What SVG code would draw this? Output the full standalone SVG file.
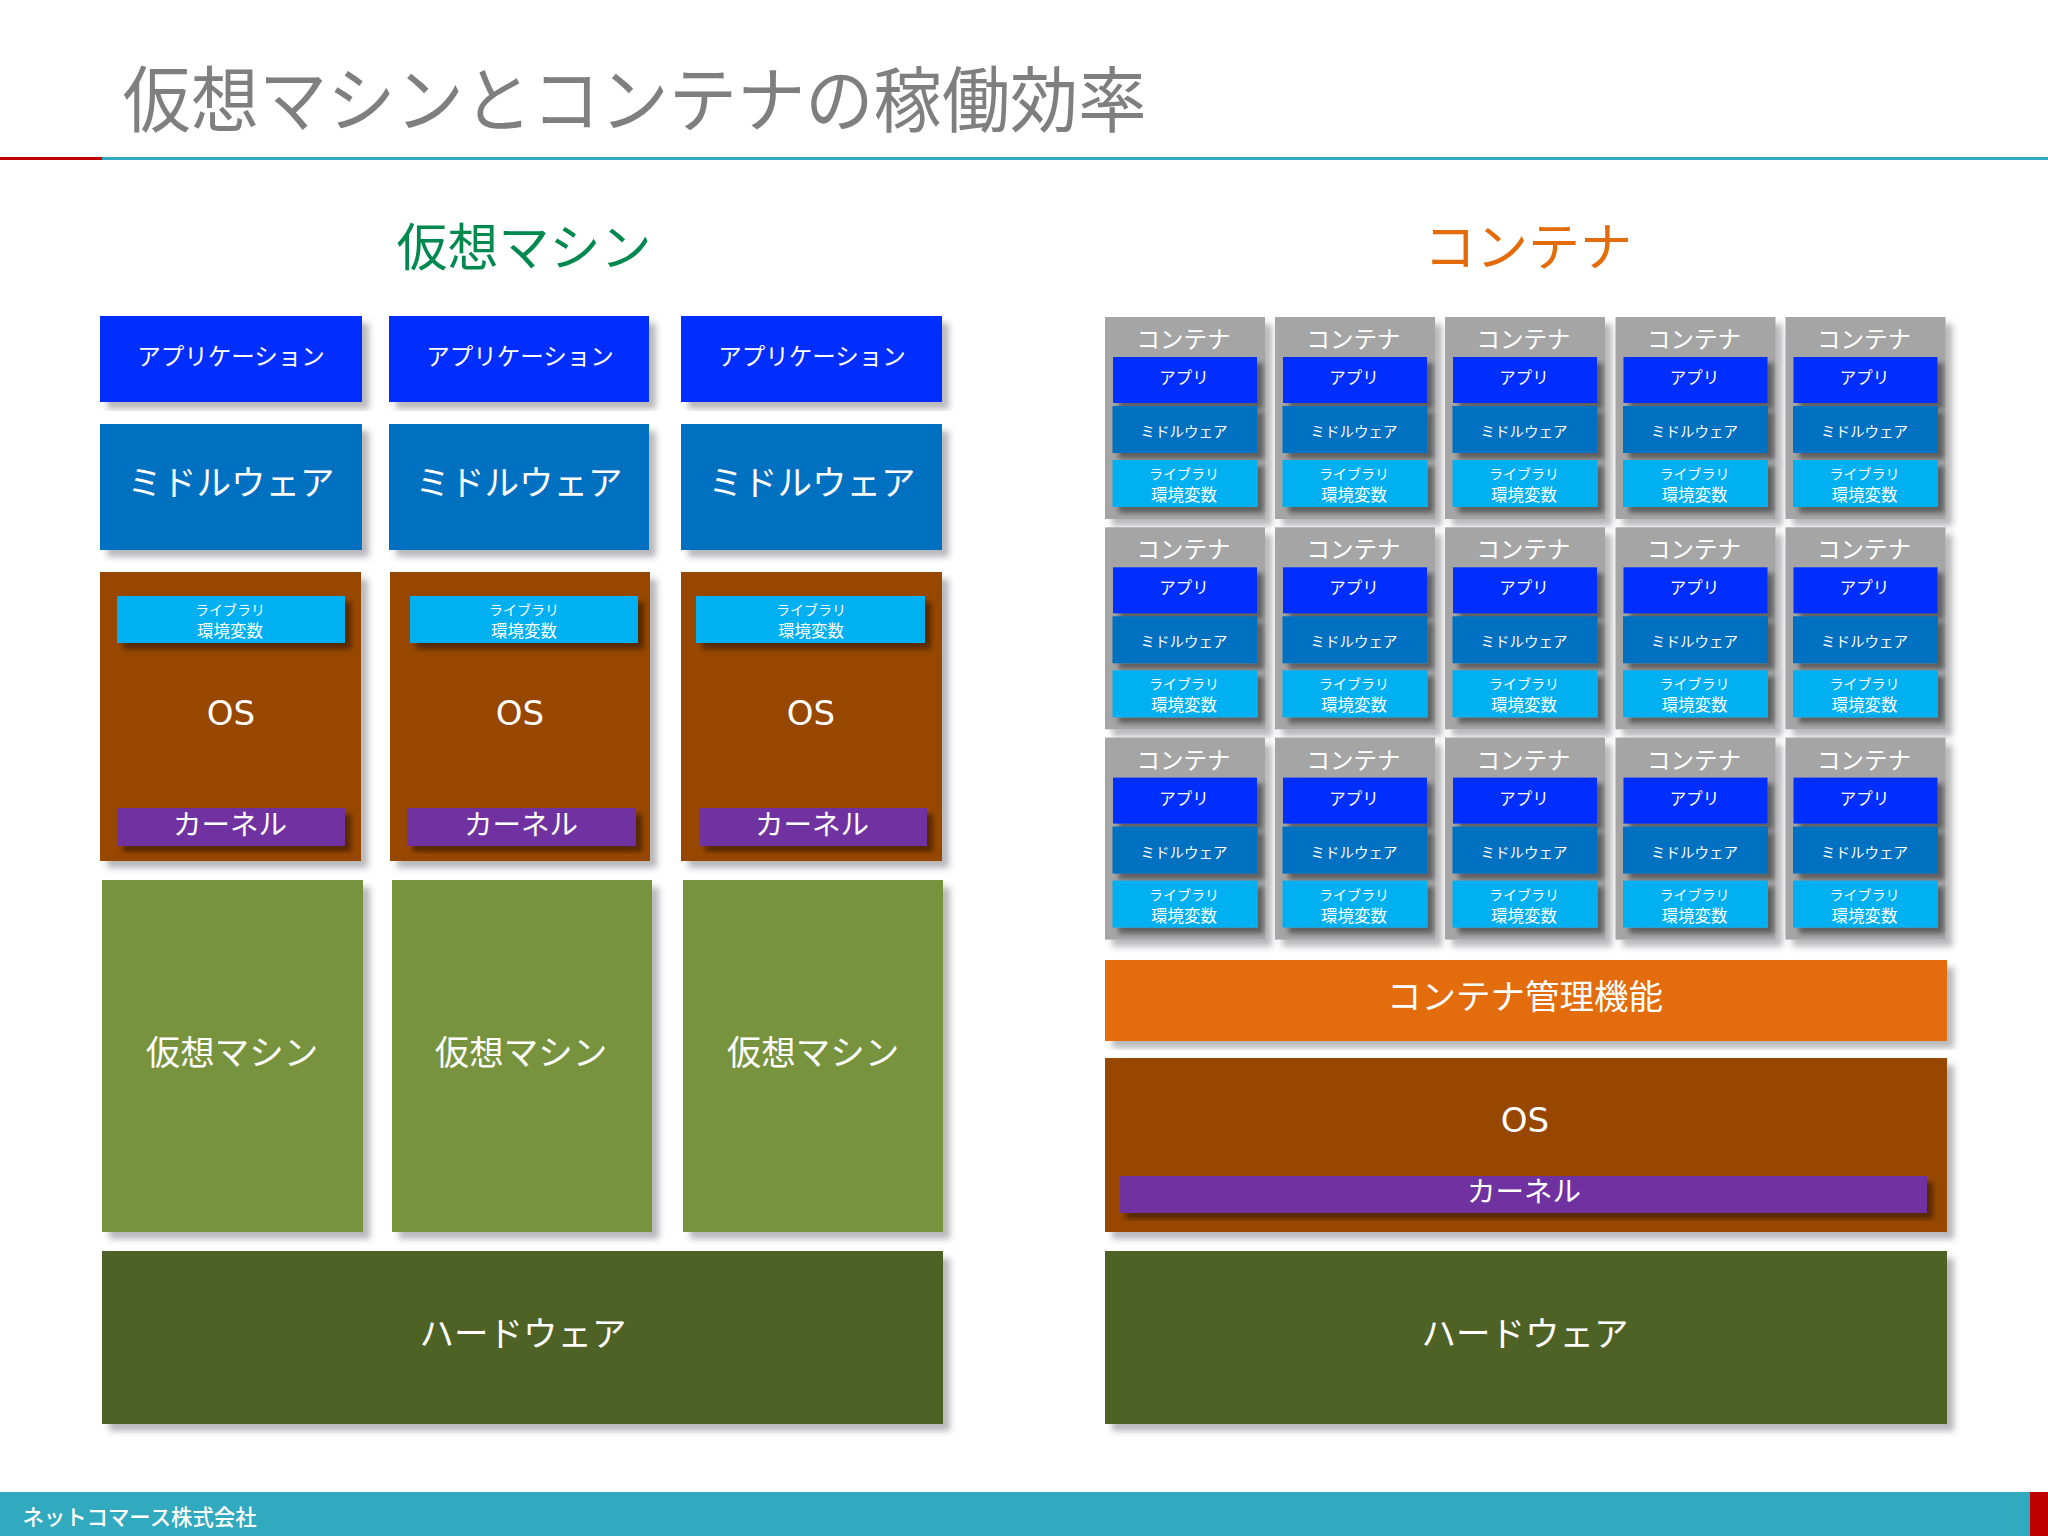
<svg xmlns="http://www.w3.org/2000/svg" width="2048" height="1536" viewBox="0 0 2048 1536">
<style>
text{font-family:"Noto Sans CJK JP","Noto Sans",sans-serif;fill:#fff;text-anchor:middle;font-weight:400}
.s{filter:url(#sh)}
.ss{filter:url(#shs)}
.app{fill:#002EFF}.mid{fill:#0070C0}.lib{fill:#00B0F0}.os{fill:#974706}.ker{fill:#7030A0}.vm{fill:#77933C}.hw{fill:#4F6228}.con{fill:#A5A5A5}
.t23{font-size:23.5px}.t34{font-size:34.5px}.t28{font-size:28.5px}
.lib1{font-size:14px}.lib2{font-size:16.5px}.a1{font-size:16.5px}.m1{font-size:14.5px}
.lat{font-family:"DejaVu Sans",sans-serif;font-size:34px}
</style>
<defs>
<filter id="sh" x="-10%" y="-10%" width="120%" height="120%"><feDropShadow dx="7" dy="7" stdDeviation="3" flood-color="#3a3a40" flood-opacity=".36"/></filter>
<filter id="shs" x="-15%" y="-20%" width="130%" height="140%"><feDropShadow dx="6" dy="6" stdDeviation="2.5" flood-color="#000" flood-opacity=".42"/></filter>
</defs>
<rect width="2048" height="1536" fill="#fff"/>
<g id="header">
<text x="634.5" y="126" font-size="72" textLength="1024" lengthAdjust="spacingAndGlyphs" style="fill:#7F7F7F">仮想マシンとコンテナの稼働効率</text>
<rect x="102" y="157" width="1946" height="3" fill="#31A9BE"/>
<rect x="0" y="157" width="102" height="3" fill="#C00000"/>
<text x="524" y="266" font-size="51" style="fill:#00894F">仮想マシン</text>
<text x="1528" y="266" font-size="52" style="fill:#E36C09">コンテナ</text>
</g>
<g id="vm-stack">
<g id="vm-app-1"><rect class="app s" x="100" y="316" width="262" height="86"/><text class="t23" x="231" y="364.5">アプリケーション</text></g>
<g id="vm-app-2"><rect class="app s" x="389" y="316" width="260" height="86"/><text class="t23" x="520" y="364.5">アプリケーション</text></g>
<g id="vm-app-3"><rect class="app s" x="681" y="316" width="261" height="86"/><text class="t23" x="812" y="364.5">アプリケーション</text></g>
<g id="vm-mid-1"><rect class="mid s" x="100" y="424" width="262" height="126"/><text class="t34" x="231" y="495">ミドルウェア</text></g>
<g id="vm-mid-2"><rect class="mid s" x="389" y="424" width="260" height="126"/><text class="t34" x="519" y="495">ミドルウェア</text></g>
<g id="vm-mid-3"><rect class="mid s" x="681" y="424" width="261" height="126"/><text class="t34" x="812" y="495">ミドルウェア</text></g>
<g id="vm-os-1"><rect class="os s" x="100" y="572" width="261" height="289"/>
<rect class="lib ss" x="117" y="596" width="228" height="47"/><text class="lib1" x="230" y="615">ライブラリ</text><text class="lib2" x="230" y="637">環境変数</text>
<text class="lat" x="231" y="725">OS</text>
<rect class="ker ss" x="117" y="808" width="228" height="38"/><text class="t28" x="230" y="835">カーネル</text></g>
<g id="vm-os-2"><rect class="os s" x="390" y="572" width="260" height="289"/>
<rect class="lib ss" x="410" y="596" width="228" height="47"/><text class="lib1" x="524" y="615">ライブラリ</text><text class="lib2" x="524" y="637">環境変数</text>
<text class="lat" x="520" y="725">OS</text>
<rect class="ker ss" x="407" y="808" width="229" height="38"/><text class="t28" x="521" y="835">カーネル</text></g>
<g id="vm-os-3"><rect class="os s" x="681" y="572" width="261" height="289"/>
<rect class="lib ss" x="696" y="596" width="229" height="47"/><text class="lib1" x="811" y="615">ライブラリ</text><text class="lib2" x="811" y="637">環境変数</text>
<text class="lat" x="811" y="725">OS</text>
<rect class="ker ss" x="699" y="808" width="228" height="38"/><text class="t28" x="812" y="835">カーネル</text></g>
<g id="vm-guest-1"><rect class="vm s" x="102" y="880" width="261" height="352"/><text class="t34" x="232" y="1065">仮想マシン</text></g>
<g id="vm-guest-2"><rect class="vm s" x="392" y="880" width="260" height="352"/><text class="t34" x="521" y="1065">仮想マシン</text></g>
<g id="vm-guest-3"><rect class="vm s" x="683" y="880" width="260" height="352"/><text class="t34" x="813" y="1065">仮想マシン</text></g>
<g id="vm-hw"><rect class="hw s" x="102" y="1251" width="841" height="173"/><text class="t34" x="523" y="1346">ハードウェア</text></g>
</g>
<g id="containers">
<g id="c-1-1" transform="translate(1105 317)"><rect class="con s" width="160" height="202"/><text class="t23" x="78.5" y="31">コンテナ</text><rect class="app ss" x="8" y="40" width="144" height="46"/><text class="a1" x="79" y="67">アプリ</text><rect class="mid ss" x="7.5" y="89" width="145" height="47"/><text class="m1" x="79" y="120">ミドルウェア</text><rect class="lib ss" x="7.5" y="143" width="145" height="47"/><text class="lib1" x="79" y="162">ライブラリ</text><text class="lib2" x="79" y="184">環境変数</text></g>
<g id="c-1-2" transform="translate(1275 317)"><rect class="con s" width="160" height="202"/><text class="t23" x="78.5" y="31">コンテナ</text><rect class="app ss" x="8" y="40" width="144" height="46"/><text class="a1" x="79" y="67">アプリ</text><rect class="mid ss" x="7.5" y="89" width="145" height="47"/><text class="m1" x="79" y="120">ミドルウェア</text><rect class="lib ss" x="7.5" y="143" width="145" height="47"/><text class="lib1" x="79" y="162">ライブラリ</text><text class="lib2" x="79" y="184">環境変数</text></g>
<g id="c-1-3" transform="translate(1445 317)"><rect class="con s" width="160" height="202"/><text class="t23" x="78.5" y="31">コンテナ</text><rect class="app ss" x="8" y="40" width="144" height="46"/><text class="a1" x="79" y="67">アプリ</text><rect class="mid ss" x="7.5" y="89" width="145" height="47"/><text class="m1" x="79" y="120">ミドルウェア</text><rect class="lib ss" x="7.5" y="143" width="145" height="47"/><text class="lib1" x="79" y="162">ライブラリ</text><text class="lib2" x="79" y="184">環境変数</text></g>
<g id="c-1-4" transform="translate(1615.5 317)"><rect class="con s" width="160" height="202"/><text class="t23" x="78.5" y="31">コンテナ</text><rect class="app ss" x="8" y="40" width="144" height="46"/><text class="a1" x="79" y="67">アプリ</text><rect class="mid ss" x="7.5" y="89" width="145" height="47"/><text class="m1" x="79" y="120">ミドルウェア</text><rect class="lib ss" x="7.5" y="143" width="145" height="47"/><text class="lib1" x="79" y="162">ライブラリ</text><text class="lib2" x="79" y="184">環境変数</text></g>
<g id="c-1-5" transform="translate(1785.5 317)"><rect class="con s" width="160" height="202"/><text class="t23" x="78.5" y="31">コンテナ</text><rect class="app ss" x="8" y="40" width="144" height="46"/><text class="a1" x="79" y="67">アプリ</text><rect class="mid ss" x="7.5" y="89" width="145" height="47"/><text class="m1" x="79" y="120">ミドルウェア</text><rect class="lib ss" x="7.5" y="143" width="145" height="47"/><text class="lib1" x="79" y="162">ライブラリ</text><text class="lib2" x="79" y="184">環境変数</text></g>
<g id="c-2-1" transform="translate(1105 527.3)"><rect class="con s" width="160" height="202"/><text class="t23" x="78.5" y="31">コンテナ</text><rect class="app ss" x="8" y="40" width="144" height="46"/><text class="a1" x="79" y="67">アプリ</text><rect class="mid ss" x="7.5" y="89" width="145" height="47"/><text class="m1" x="79" y="120">ミドルウェア</text><rect class="lib ss" x="7.5" y="143" width="145" height="47"/><text class="lib1" x="79" y="162">ライブラリ</text><text class="lib2" x="79" y="184">環境変数</text></g>
<g id="c-2-2" transform="translate(1275 527.3)"><rect class="con s" width="160" height="202"/><text class="t23" x="78.5" y="31">コンテナ</text><rect class="app ss" x="8" y="40" width="144" height="46"/><text class="a1" x="79" y="67">アプリ</text><rect class="mid ss" x="7.5" y="89" width="145" height="47"/><text class="m1" x="79" y="120">ミドルウェア</text><rect class="lib ss" x="7.5" y="143" width="145" height="47"/><text class="lib1" x="79" y="162">ライブラリ</text><text class="lib2" x="79" y="184">環境変数</text></g>
<g id="c-2-3" transform="translate(1445 527.3)"><rect class="con s" width="160" height="202"/><text class="t23" x="78.5" y="31">コンテナ</text><rect class="app ss" x="8" y="40" width="144" height="46"/><text class="a1" x="79" y="67">アプリ</text><rect class="mid ss" x="7.5" y="89" width="145" height="47"/><text class="m1" x="79" y="120">ミドルウェア</text><rect class="lib ss" x="7.5" y="143" width="145" height="47"/><text class="lib1" x="79" y="162">ライブラリ</text><text class="lib2" x="79" y="184">環境変数</text></g>
<g id="c-2-4" transform="translate(1615.5 527.3)"><rect class="con s" width="160" height="202"/><text class="t23" x="78.5" y="31">コンテナ</text><rect class="app ss" x="8" y="40" width="144" height="46"/><text class="a1" x="79" y="67">アプリ</text><rect class="mid ss" x="7.5" y="89" width="145" height="47"/><text class="m1" x="79" y="120">ミドルウェア</text><rect class="lib ss" x="7.5" y="143" width="145" height="47"/><text class="lib1" x="79" y="162">ライブラリ</text><text class="lib2" x="79" y="184">環境変数</text></g>
<g id="c-2-5" transform="translate(1785.5 527.3)"><rect class="con s" width="160" height="202"/><text class="t23" x="78.5" y="31">コンテナ</text><rect class="app ss" x="8" y="40" width="144" height="46"/><text class="a1" x="79" y="67">アプリ</text><rect class="mid ss" x="7.5" y="89" width="145" height="47"/><text class="m1" x="79" y="120">ミドルウェア</text><rect class="lib ss" x="7.5" y="143" width="145" height="47"/><text class="lib1" x="79" y="162">ライブラリ</text><text class="lib2" x="79" y="184">環境変数</text></g>
<g id="c-3-1" transform="translate(1105 737.6)"><rect class="con s" width="160" height="202"/><text class="t23" x="78.5" y="31">コンテナ</text><rect class="app ss" x="8" y="40" width="144" height="46"/><text class="a1" x="79" y="67">アプリ</text><rect class="mid ss" x="7.5" y="89" width="145" height="47"/><text class="m1" x="79" y="120">ミドルウェア</text><rect class="lib ss" x="7.5" y="143" width="145" height="47"/><text class="lib1" x="79" y="162">ライブラリ</text><text class="lib2" x="79" y="184">環境変数</text></g>
<g id="c-3-2" transform="translate(1275 737.6)"><rect class="con s" width="160" height="202"/><text class="t23" x="78.5" y="31">コンテナ</text><rect class="app ss" x="8" y="40" width="144" height="46"/><text class="a1" x="79" y="67">アプリ</text><rect class="mid ss" x="7.5" y="89" width="145" height="47"/><text class="m1" x="79" y="120">ミドルウェア</text><rect class="lib ss" x="7.5" y="143" width="145" height="47"/><text class="lib1" x="79" y="162">ライブラリ</text><text class="lib2" x="79" y="184">環境変数</text></g>
<g id="c-3-3" transform="translate(1445 737.6)"><rect class="con s" width="160" height="202"/><text class="t23" x="78.5" y="31">コンテナ</text><rect class="app ss" x="8" y="40" width="144" height="46"/><text class="a1" x="79" y="67">アプリ</text><rect class="mid ss" x="7.5" y="89" width="145" height="47"/><text class="m1" x="79" y="120">ミドルウェア</text><rect class="lib ss" x="7.5" y="143" width="145" height="47"/><text class="lib1" x="79" y="162">ライブラリ</text><text class="lib2" x="79" y="184">環境変数</text></g>
<g id="c-3-4" transform="translate(1615.5 737.6)"><rect class="con s" width="160" height="202"/><text class="t23" x="78.5" y="31">コンテナ</text><rect class="app ss" x="8" y="40" width="144" height="46"/><text class="a1" x="79" y="67">アプリ</text><rect class="mid ss" x="7.5" y="89" width="145" height="47"/><text class="m1" x="79" y="120">ミドルウェア</text><rect class="lib ss" x="7.5" y="143" width="145" height="47"/><text class="lib1" x="79" y="162">ライブラリ</text><text class="lib2" x="79" y="184">環境変数</text></g>
<g id="c-3-5" transform="translate(1785.5 737.6)"><rect class="con s" width="160" height="202"/><text class="t23" x="78.5" y="31">コンテナ</text><rect class="app ss" x="8" y="40" width="144" height="46"/><text class="a1" x="79" y="67">アプリ</text><rect class="mid ss" x="7.5" y="89" width="145" height="47"/><text class="m1" x="79" y="120">ミドルウェア</text><rect class="lib ss" x="7.5" y="143" width="145" height="47"/><text class="lib1" x="79" y="162">ライブラリ</text><text class="lib2" x="79" y="184">環境変数</text></g>
</g>
<g id="container-stack">
<g id="mgr"><rect class="s" x="1105" y="960" width="842" height="81" fill="#E36C09"/><text class="t34" x="1525" y="1009">コンテナ管理機能</text></g>
<g id="c-os"><rect class="os s" x="1105" y="1058" width="842" height="174"/><text class="lat" x="1525" y="1132">OS</text>
<rect class="ker ss" x="1120" y="1176" width="807" height="37"/><text class="t28" x="1524" y="1202">カーネル</text></g>
<g id="c-hw"><rect class="hw s" x="1105" y="1251" width="842" height="173"/><text class="t34" x="1525" y="1346">ハードウェア</text></g>
</g>
<g id="footer">
<rect x="0" y="1492" width="2030" height="44" fill="#31A9BE"/>
<rect x="2030" y="1492" width="18" height="44" fill="#C00000"/>
<text x="139.5" y="1525" font-size="21.4" style="font-weight:500">ネットコマース株式会社</text>
</g>
</svg>
